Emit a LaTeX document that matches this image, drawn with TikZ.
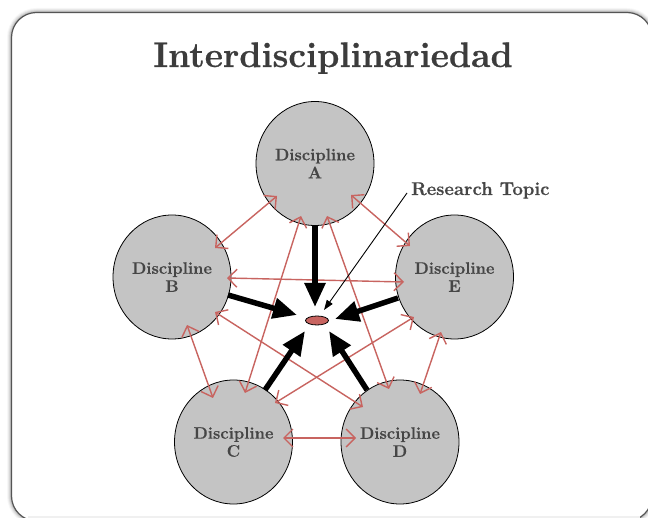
\documentclass[tikz,border=0pt]{standalone}
\usepackage{fontspec}
\setmainfont{Latin Modern Roman}[BoldFeatures={FakeBold=0.6}]
\usetikzlibrary{arrows.meta,shapes.geometric}
\definecolor{rc}{RGB}{200,100,96}
\definecolor{circfill}{RGB}{196,196,196}
\definecolor{txtgray}{RGB}{70,70,70}
\definecolor{titlegray}{RGB}{60,60,60}
\definecolor{framegray}{RGB}{85,85,85}
\tikzset{
  disc/.style={ellipse, draw=black, line width=0.8pt, fill=circfill, minimum width=118pt, minimum height=124pt, inner sep=0pt,
    font=\fontsize{16.6}{18}\selectfont\bfseries, text=txtgray, align=center},
  redarr/.style={draw=rc, line width=1.4pt, {Straight Barb[length=9pt,width=18pt]}-{Straight Barb[length=9pt,width=18pt]}},
  bigarr/.style={draw=black, line width=5.5pt, -{Triangle[length=24pt,width=20pt]}},
  thinarr/.style={draw=black, line width=0.9pt, -{Triangle[length=10pt,width=7pt]}},
}
\begin{document}
\begin{tikzpicture}[x=1pt,y=-1pt]
\useasboundingbox (0,0) rectangle (648,518);
\fill[white] (0,0) rectangle (648,518);
% frame shadow
\foreach \w/\o in {9/0.03,7/0.05,5/0.07,3/0.1}{
  \draw[black, opacity=\o, line width=\w pt, rounded corners=25pt] (11.5,12.5) rectangle (652,521);
}
\draw[framegray, fill=white, line width=1.2pt, rounded corners=25pt] (11.5,12.5) rectangle (652,521);
\fill[black!6] (28,515.5) rectangle (640,518);

% title
\node[anchor=base, font=\fontsize{35.5}{40}\selectfont\bfseries, text=titlegray, inner sep=0pt] (title) at (333,67) {Interdisciplinariedad};

% disciplines
\node[disc] (A) at (315,163.5) {Discipline\\A};
\node[disc] (B) at (172,277) {Discipline\\B};
\node[disc] (E) at (454.5,277) {Discipline\\E};
\node[disc] (C) at (233.5,442) {Discipline\\C};
\node[disc] (D) at (400,442) {Discipline\\D};

% research topic
\node[ellipse, draw=black, line width=0.8pt, fill=rc, minimum width=23pt, minimum height=9pt, inner sep=0pt] (X) at (317,320.5) {};
\node[anchor=base west, inner sep=0pt, font=\fontsize{18.5}{20}\selectfont\bfseries, text=txtgray] (RT) at (411,195) {Research Topic};

% red double arrows
\draw[redarr] ([shift={(-38,32.5)}]A.center) -- ([shift={(43,-29)}]B.center);
\draw[redarr] ([shift={(36,31.5)}]A.center) -- ([shift={(-44.5,-31)}]E.center);
\draw[redarr] ([shift={(-14,52.5)}]A.center) -- ([shift={(11.5,-49)}]C.center);
\draw[redarr] ([shift={(12,52.5)}]A.center) -- ([shift={(-11,-53)}]D.center);
\draw[redarr] ([shift={(55,1)}]B.center) -- ([shift={(-50.5,5)}]E.center);
\draw[redarr] ([shift={(15,48)}]B.center) -- ([shift={(-20.5,-44)}]C.center);
\draw[redarr] ([shift={(43,35)}]B.center) -- ([shift={(-37,-35)}]D.center);
\draw[redarr] ([shift={(-40.5,40)}]E.center) -- ([shift={(41.5,-39)}]C.center);
\draw[redarr] ([shift={(-13.5,55)}]E.center) -- ([shift={(20,-48)}]D.center);
\draw[redarr] ([shift={(49.5,-4)}]C.center) -- ([shift={(-44,-4)}]D.center);

% black arrows to research topic
\draw[bigarr] ([shift={(0,62)}]A.center) -- ([shift={(-2,-13.5)}]X.center);
\draw[bigarr] ([shift={(56,18)}]B.center) -- ([shift={(-20,-5.5)}]X.center);
\draw[bigarr] ([shift={(-56.5,21)}]E.center) -- ([shift={(18,-1.5)}]X.center);
\draw[bigarr] ([shift={(31.5,-52)}]C.center) -- ([shift={(-12,10.5)}]X.center);
\draw[bigarr] ([shift={(-33,-52)}]D.center) -- ([shift={(12,10.5)}]X.center);

% pointer
\draw[thinarr] ([shift={(-4,-2)}]RT.base west) -- ([shift={(7,-10.5)}]X.center);
\end{tikzpicture}
\end{document}
